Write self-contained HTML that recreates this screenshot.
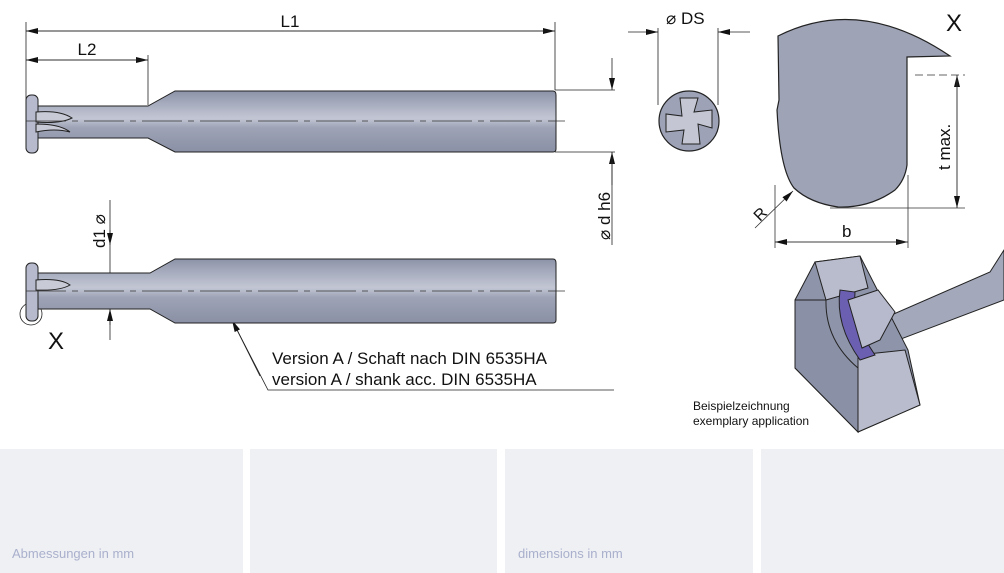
<!DOCTYPE html>
<html><head><meta charset="utf-8"><style>
html,body{margin:0;padding:0;background:#fff;}
body{width:1004px;height:573px;position:relative;overflow:hidden;font-family:"Liberation Sans",sans-serif;}
.p{position:absolute;top:449px;height:124px;background:#eff0f4;}
.lbl{position:absolute;top:546px;font-size:13px;color:#a9b0cc;}
</style></head><body>
<svg width="1004" height="449" style="position:absolute;left:0;top:0" font-family="Liberation Sans, sans-serif">
<defs>
<linearGradient id="g" x1="0" y1="0" x2="0" y2="1">
<stop offset="0" stop-color="#8d93a8"/><stop offset="0.2" stop-color="#a6abbd"/><stop offset="0.45" stop-color="#c3c7d4"/><stop offset="0.6" stop-color="#9ea3b6"/><stop offset="1" stop-color="#8a90a5"/>
</linearGradient>
<marker id="a" markerWidth="12" markerHeight="6" refX="12" refY="3" orient="auto" markerUnits="userSpaceOnUse"><path d="M0,0L12,3L0,6z" fill="#111"/></marker>
</defs>
<g stroke="#222" stroke-width="0.8" fill="none">
<line x1="26" y1="22" x2="26" y2="110"/><line x1="555" y1="22" x2="555" y2="90"/>
<line x1="26" y1="31" x2="555" y2="31" marker-end="url(#a)"/><line x1="555" y1="31" x2="26" y2="31" marker-end="url(#a)"/>
<line x1="148" y1="55" x2="148" y2="105"/>
<line x1="26" y1="60" x2="148" y2="60" marker-end="url(#a)"/><line x1="148" y1="60" x2="26" y2="60" marker-end="url(#a)"/>
<line x1="555" y1="90" x2="615" y2="90"/><line x1="555" y1="152" x2="615" y2="152"/>
<line x1="612" y1="58" x2="612" y2="90" marker-end="url(#a)"/><line x1="612" y1="185" x2="612" y2="152" marker-end="url(#a)"/><line x1="612" y1="152" x2="612" y2="245"/>
<line x1="658" y1="28" x2="658" y2="105"/><line x1="718" y1="28" x2="718" y2="105"/>
<line x1="628" y1="32" x2="658" y2="32" marker-end="url(#a)"/><line x1="750" y1="32" x2="718" y2="32" marker-end="url(#a)"/>
<line x1="110" y1="200" x2="110" y2="340"/>
<line x1="110" y1="230" x2="110" y2="245" marker-end="url(#a)"/><line x1="110" y1="325" x2="110" y2="309" marker-end="url(#a)"/>
<polyline points="232,320 268,390 614,390"/>
<line x1="260" y1="376" x2="232" y2="320" marker-end="url(#a)"/>
<circle cx="31" cy="314" r="11"/>
</g>
<g stroke="#222" stroke-width="1">
<path d="M36,106 L148,106 L175,91 L553,91 Q556,91 556,95 L556,149 Q556,152 553,152 L175,152 L148,138 L36,138 Z" fill="url(#g)"/>
<rect x="26" y="95" width="12" height="58" rx="5" fill="#b7bacc"/>
<path d="M36,112 Q60,110 72,118 Q60,124 36,122Z" fill="#c8cad6"/>
<path d="M36,124 Q60,124 70,132 Q55,128 36,132Z" fill="#c8cad6"/>
</g>
<line x1="26" y1="121" x2="565" y2="121" stroke="#333" stroke-width="0.8" stroke-dasharray="40,6,6,6"/>
<g stroke="#222" stroke-width="1">
<path d="M36,273 L150,273 L175,259 L553,259 Q556,259 556,263 L556,320 Q556,323 553,323 L175,323 L150,309 L36,309 Z" fill="url(#g)"/>
<rect x="26" y="263" width="12" height="58" rx="5" fill="#b7bacc"/>
<path d="M36,280 Q60,278 70,285 Q60,291 36,290Z" fill="#c8cad6"/>
</g>
<line x1="26" y1="291" x2="565" y2="291" stroke="#333" stroke-width="0.8" stroke-dasharray="40,6,6,6"/>
<circle cx="689" cy="121" r="30" fill="#9da2b6" stroke="#222" stroke-width="1.2"/>
<path d="M680,98 L698,98 L694,112 L712,110 L712,128 L698,124 L700,144 L682,144 L684,130 L666,132 L666,114 L682,116Z" fill="#c4c7d3" stroke="#222"/>
<path d="M778,36 Q860,-5 950,56 L907,57 L907,165 Q905,180 895,190 Q870,208 838,207 Q810,203 794,188 Q780,170 777,110 L779,100 Z" fill="#9ea3b6" stroke="#222" stroke-width="1.2"/>
<g stroke="#333" stroke-width="0.8" fill="none">
<line x1="915" y1="75" x2="965" y2="75" stroke-dasharray="8,4"/><line x1="830" y1="208" x2="965" y2="208"/>
<line x1="957" y1="208" x2="957" y2="75" marker-end="url(#a)"/><line x1="957" y1="75" x2="957" y2="208" marker-end="url(#a)"/>
<line x1="775" y1="185" x2="775" y2="248"/><line x1="908" y1="175" x2="908" y2="248"/>
<line x1="775" y1="242" x2="908" y2="242" marker-end="url(#a)"/><line x1="908" y1="242" x2="775" y2="242" marker-end="url(#a)"/>
<line x1="755" y1="228" x2="793" y2="191" marker-end="url(#a)"/>
</g>
<g stroke="#222" stroke-width="1">
<path d="M1004,250 L990,272 L880,320 L885,345 L1004,300Z" fill="#a3a8ba"/>
<path d="M795,300 L815,262 L860,256 L908,350 L920,405 L858,432 L795,368Z" fill="#8e94a9"/>
<path d="M815,262 L860,256 L868,288 L826,300Z" fill="#b9bccc"/>
<path d="M858,355 L905,350 L920,405 L858,432Z" fill="#b9bccc"/>
<path d="M826,300 Q825,340 858,368 L858,432 L795,368 L795,300Z" fill="#8a90a5"/>
<path d="M840,290 Q835,325 860,360 L875,355 Q852,322 855,292Z" fill="#6a5fb0"/>
<path d="M848,300 L878,290 L895,312 L880,340 L862,348Z" fill="#b7bacc"/>
</g>
<g font-size="20" fill="#111">
<text x="290" y="27" text-anchor="middle" font-size="17">L1</text>
<text x="87" y="55" text-anchor="middle" font-size="17">L2</text>
<text x="666" y="24" font-size="17">⌀ DS</text>
<text x="946" y="31" font-size="24">X</text>
<text x="48" y="349" font-size="24">X</text>
<text x="842" y="237" font-size="17">b</text>
<text transform="translate(760,222) rotate(-45)" font-size="16">R</text>
<text transform="translate(950,170) rotate(-90)" font-size="17">t max.</text>
<text transform="translate(610,240) rotate(-90)" font-size="17">⌀ d h6</text>
<text transform="translate(105,248) rotate(-90)" font-size="17">d1 ⌀</text>
<text x="272" y="364" font-size="17">Version A / Schaft nach DIN 6535HA</text>
<text x="272" y="385" font-size="17">version A / shank acc. DIN 6535HA</text>
<text x="693" y="410" font-size="12">Beispielzeichnung</text>
<text x="693" y="425" font-size="12">exemplary application</text>
</g>
</svg>
<div class="p" style="left:0;width:243px"></div>
<div class="p" style="left:250px;width:247px"></div>
<div class="p" style="left:505px;width:248px"></div>
<div class="p" style="left:761px;width:243px"></div>
<div class="lbl" style="left:12px">Abmessungen in mm</div>
<div class="lbl" style="left:518px">dimensions in mm</div>
</body></html>
